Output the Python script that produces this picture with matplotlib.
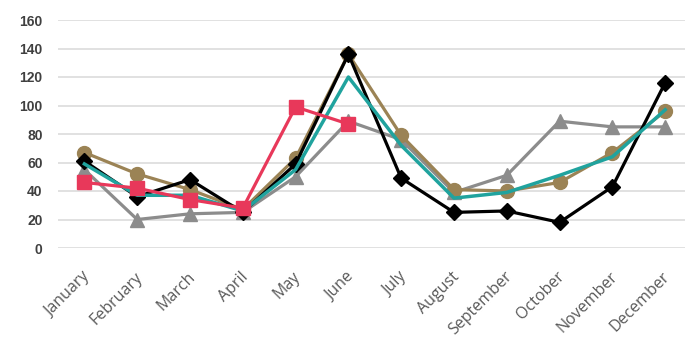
import matplotlib
matplotlib.use('Agg')
import matplotlib.pyplot as plt
import matplotlib.transforms as mtransforms

months = ['January', 'February', 'March', 'April', 'May', 'June', 'July',
          'August', 'September', 'October', 'November', 'December']

gray_tri = [55, 20, 24, 25, 50, 89, 76, 39, 51, 89, 85, 85]
tan_circ = [67, 52, 41, 27, 63, 136, 79, 41, 40, 46, 67, 96]
black_dia = [61, 36, 48, 25, 59, 136, 49, 25, 26, 18, 43, 116]
teal_line = [59, 37, 37, 26, 55, 120, 72, 35, 39, 51, 64, 97]
red_sq = [46, 42, 34, 28, 99, 87]

x = list(range(len(months)))

fig = plt.figure(figsize=(6.85, 3.41), dpi=100)
ax = fig.add_axes([58/685, 93/341, 627/685, 228/341])

ax.plot(x, gray_tri, color='#8c8c8c', lw=2.3, marker='^', ms=10)
ax.plot(x, tan_circ, color='#9b8355', lw=2.3, marker='o', ms=10)
ax.plot(x, black_dia, color='black', lw=2.3, marker='D', ms=8)
ax.plot(x, teal_line, color='#20a39e', lw=2.5)
ax.plot(x[:len(red_sq)], red_sq, color='#e8385a', lw=2.3, marker='s', ms=10)

ax.set_ylim(0, 160)
ax.set_xlim(-0.5, 11.375)
ax.set_yticks(range(0, 161, 20))
ax.set_xticks(x)
ax.set_xticklabels(months)
ax.grid(axis='y', color='#d9d9d9', lw=1.1)
ax.set_axisbelow(True)
for s in ax.spines.values():
    s.set_visible(False)
ax.tick_params(length=0)
ax.tick_params(axis='y', pad=11, labelsize=10, labelcolor='#404040')
for t in ax.get_yticklabels():
    t.set_fontfamily('Liberation Sans')
    t.set_fontweight('bold')

ax.tick_params(axis='x', pad=15, labelsize=11.5, labelcolor='#595959')
off = mtransforms.ScaledTranslation(-3/100, 0, fig.dpi_scale_trans)
for t in ax.get_xticklabels():
    t.set_fontfamily('Open Sans')
    t.set_rotation(45)
    t.set_ha('right')
    t.set_va('top')
    t.set_rotation_mode('anchor')
    t.set_transform(t.get_transform() + off)

fig.savefig('out.png', dpi=100)
